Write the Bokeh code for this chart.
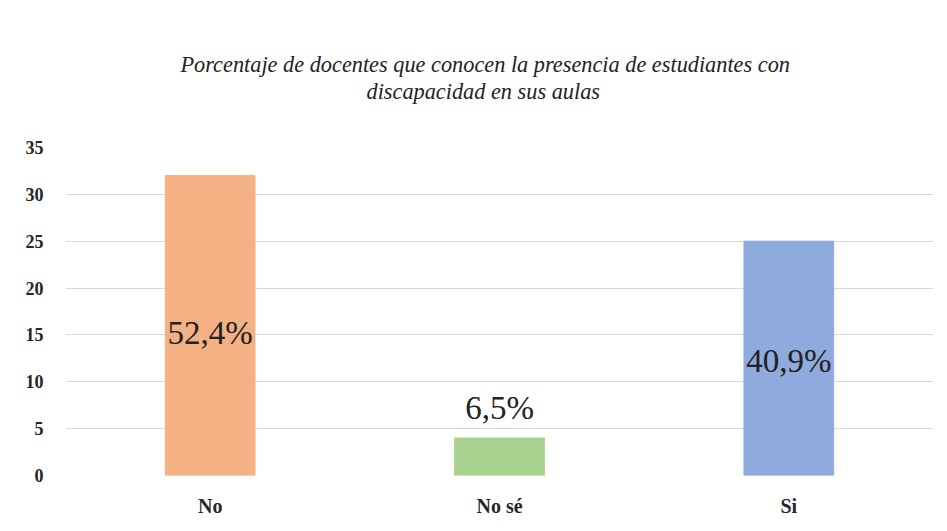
from bokeh.plotting import figure
from bokeh.models import ColumnDataSource, FixedTicker, Range1d, Title
from bokeh.core.properties import value
from bokeh.embed import file_html
from bokeh.resources import INLINE

categories = ["No", "No sé", "Si"]
counts = [32, 4, 25]
pct_labels = ["52,4%", "6,5%", "40,9%"]
label_y = [15.2, 7.2, 12.2]
colors = ["#F4B183", "#A9D18E", "#8FAADC"]
y_ticks = [0, 5, 10, 15, 20, 25, 30, 35]
title_lines = ["Porcentaje de docentes que conocen la presencia de estudiantes con",
               "discapacidad en sus aulas"]

src = ColumnDataSource(dict(cat=categories, cnt=counts, lab=pct_labels, ly=label_y, col=colors))

p = figure(x_range=categories, y_range=Range1d(0, 35), width=945, height=529,
           output_backend="svg", toolbar_location=None,
           min_border_left=65, min_border_right=12, min_border_bottom=54, min_border_top=147)

SERIF = "Liberation Serif"

p.vbar(x="cat", top="cnt", width=0.31, color="col", source=src)
p.text(x="cat", y="ly", text="lab", source=src, text_align="center", text_baseline="middle",
       text_font=value(SERIF), text_font_size="33px", text_color="#222222")

# spacer nearest the frame, then the two title lines
p.add_layout(Title(text=" ", align="center", standoff=18, text_font=SERIF,
                   text_font_size="21px"), "above")
p.add_layout(Title(text=title_lines[1], align="left", offset=301, standoff=0, text_font=SERIF,
                   text_font_style="italic", text_font_size="22.3px", text_color="#222222"), "above")
p.add_layout(Title(text=title_lines[0], align="left", offset=115, standoff=0, text_font=SERIF,
                   text_font_style="italic", text_font_size="22.3px", text_color="#222222"), "above")

p.outline_line_color = None
p.background_fill_color = "white"
p.border_fill_color = "white"
p.xgrid.grid_line_color = None
p.ygrid.grid_line_color = "#d9d9d9"
p.ygrid.grid_line_width = 1
p.yaxis.ticker = FixedTicker(ticks=y_ticks)
for ax in (p.xaxis[0], p.yaxis[0]):
    ax.axis_line_color = None
    ax.major_tick_line_color = None
    ax.minor_tick_line_color = None
    ax.major_label_text_font = SERIF
    ax.major_label_text_font_style = "bold"
    ax.major_label_text_color = "#262626"
p.yaxis.major_label_text_font_size = "18px"
p.xaxis.major_label_text_font_size = "20px"
p.yaxis.major_label_standoff = 16
p.xaxis.major_label_standoff = 13

open("out.html", "w").write(file_html(p, INLINE))
